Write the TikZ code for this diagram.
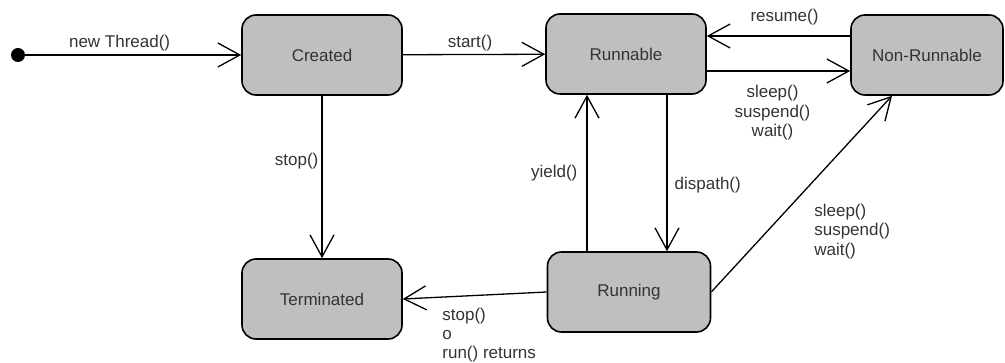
\documentclass[tikz,border=0pt]{standalone}
\usepackage{fontspec}
\setmainfont{Liberation Sans}
\usetikzlibrary{arrows.meta}

\tikzset{
  state/.style={draw=black,line width=1.6pt,fill=black!25,rounded corners=14pt,
    minimum width=160pt,minimum height=80pt,text=black!80,font=\fontsize{17}{20}\selectfont},
  trans/.style={line width=1.3pt,-{Straight Barb[length=22pt,width=24pt,line width=1.3pt]}},
  lbl/.style={text=black!80,font=\fontsize{17}{19.5}\selectfont,inner sep=3pt}
}

\begin{document}
\begin{tikzpicture}[x=1pt,y=-1pt]
  \useasboundingbox (0,0) rectangle (1005,363);
  % states
  \node[state] (created) at (322,55) {Created};
  \node[state] (runnable) at (626,54) {Runnable};
  \node[state,minimum width=152pt] (nonrun) at (927,55) {Non-Runnable};
  \node[state] (terminated) at (322,299) {Terminated};
  \node[state,minimum width=163pt] (running) at (629,292) {Running};
  \fill (18,55) circle (7pt) coordinate (init);

  % transitions
  \draw[trans] (init) -- (created.west) node[midway,above,lbl,xshift=-10pt] {new Thread()};
  \draw[trans] (created) -- (runnable) node[midway,above,lbl,xshift=-4pt] {start()};
  \draw[trans] ([yshift=19pt]nonrun.west) -- ([yshift=18pt]runnable.east)
    node[midway,above,lbl,xshift=6pt,yshift=7pt] {resume()};
  \draw[trans] ([yshift=-17pt]runnable.east) -- ([yshift=-16pt]nonrun.west)
    node[midway,below,lbl,align=center,xshift=-6pt,yshift=-11pt] {sleep()\\suspend()\\wait()};
  \draw[trans] (created) -- (terminated) node[pos=0.4,left,lbl] {stop()};
  \draw[trans] ([xshift=-42pt]running.north) -- ([xshift=-42pt]running.north |- runnable.south)
    node[pos=0.5,left,lbl,xshift=-6pt] {yield()};
  \draw[trans] ([xshift=41pt]runnable.south) -- ([xshift=41pt]runnable.south |- running.north)
    node[pos=0.58,right,lbl,xshift=4pt] {dispath()};
  \draw[trans] (running.east) -- ([xshift=-35pt]nonrun.south)
    node[pos=0.55,anchor=north west,lbl,yshift=-16pt,align=left] {sleep()\\suspend()\\wait()};
  \draw[trans] (running.west) -- (terminated.east)
    node[pos=0.75,anchor=north west,lbl,yshift=-7pt,align=left,font=\fontsize{17}{19}\selectfont] {stop()\\o\\run() returns};
\end{tikzpicture}
\end{document}
